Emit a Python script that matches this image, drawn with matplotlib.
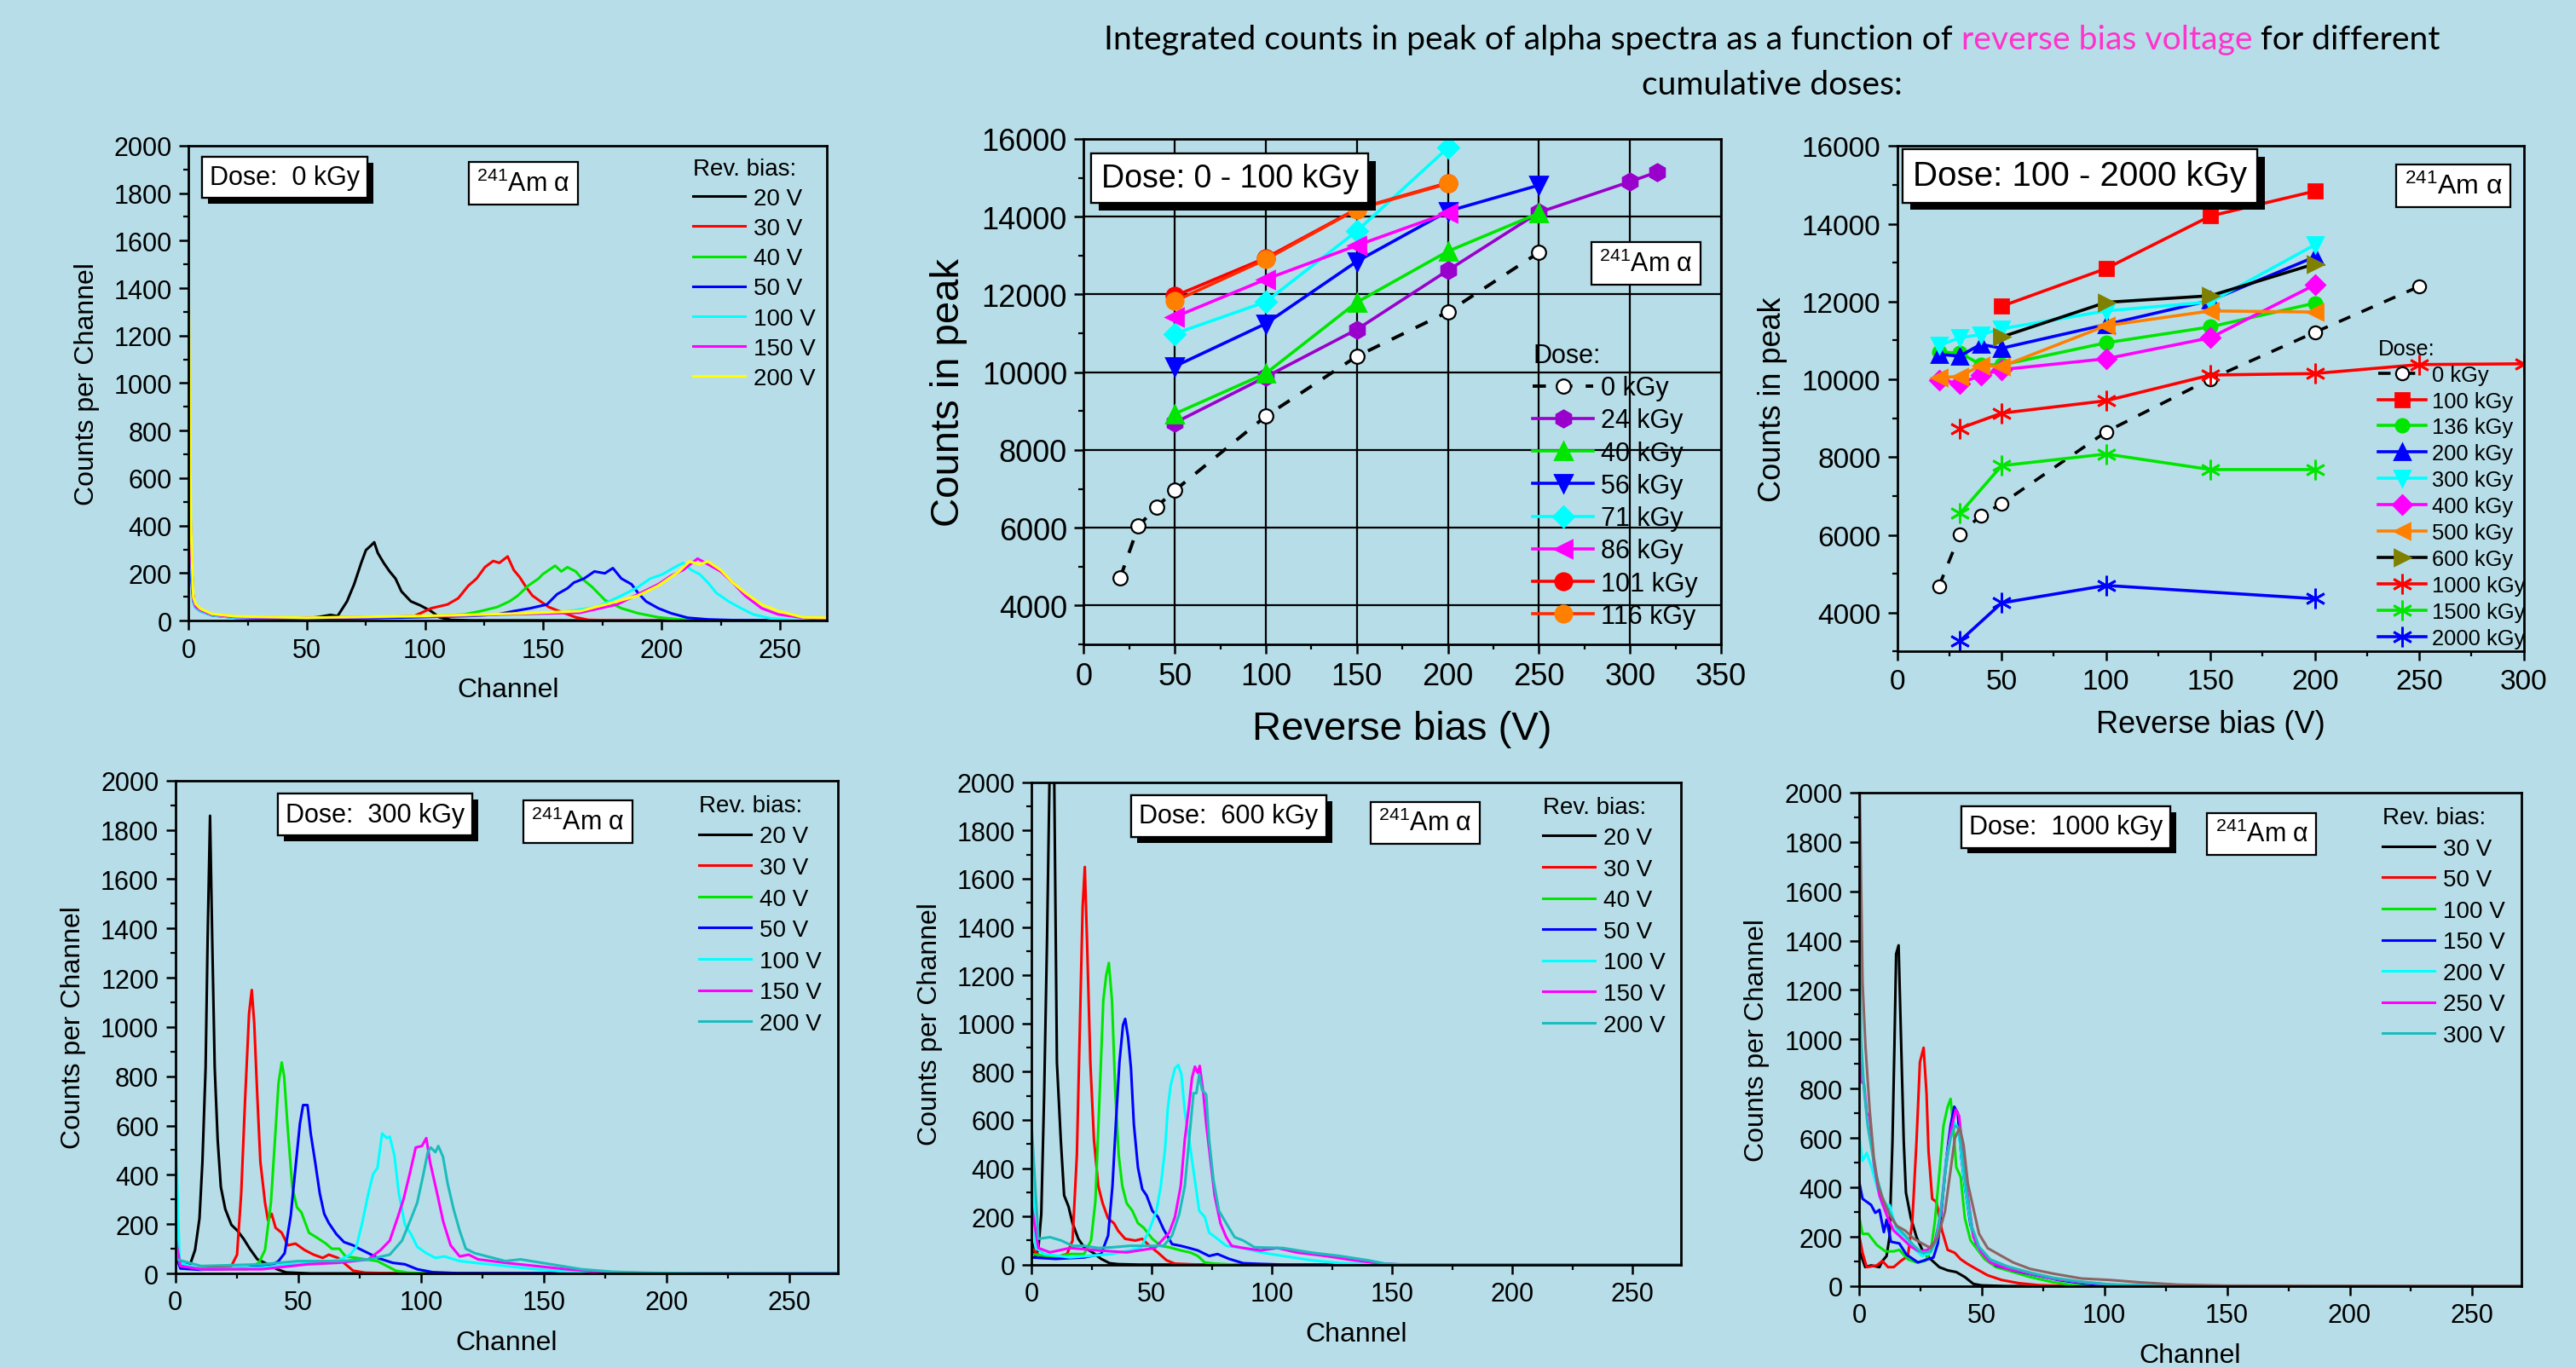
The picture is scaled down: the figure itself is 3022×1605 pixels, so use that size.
import matplotlib
matplotlib.use('Agg')
import matplotlib.pyplot as plt
import matplotlib.patheffects as pe
from matplotlib.ticker import MultipleLocator

plt.rcParams['font.family'] = ['Liberation Sans', 'DejaVu Sans']
plt.rcParams['mathtext.fontset'] = 'custom'
plt.rcParams['mathtext.rm'] = 'Liberation Sans'
plt.rcParams['mathtext.it'] = 'Liberation Sans:italic'
plt.rcParams['mathtext.default'] = 'regular'

BG = '#b7dee8'

# ---- integrated counts vs reverse bias, 0 - 100 kGy ----
bias_0 = [20, 30, 40, 50, 100, 150, 200, 250]
peak_0 = [4710, 6040, 6540, 6960, 8870, 10410, 11550, 13080]
bias_24 = [50, 100, 150, 200, 250, 300, 315]
peak_24 = [8700, 9880, 11100, 12620, 14110, 14900, 15150]
bias_5 = [50, 100, 150, 200, 250]
peak_40 = [8930, 9970, 11800, 13110, 14090]
peak_56 = [10150, 11250, 12850, 14140, 14810]
bias_4 = [50, 100, 150, 200]
peak_71 = [10990, 11810, 13630, 15770]
peak_86 = [11420, 12390, 13260, 14100]
peak_101 = [11960, 12940, 14200, 14870]
peak_116 = [11830, 12900, 14190, 14850]

# ---- integrated counts vs reverse bias, 100 - 2000 kGy ----
hb_0 = [20, 30, 40, 50, 100, 150, 200, 250]
hp_0 = [4680, 6010, 6500, 6800, 8650, 10010, 11210, 12390]
hb_100 = [50, 100, 150, 200]
hp_100 = [11880, 12850, 14200, 14840]
hb_low = [20, 30, 40, 50, 100, 150, 200]
hp_136 = [10700, 10680, 10380, 10370, 10940, 11350, 11960]
hp_200 = [10640, 10600, 10900, 10800, 11410, 12030, 13150]
hp_300 = [10870, 11070, 11150, 11300, 11760, 11990, 13460]
hp_400 = [9980, 9900, 10100, 10250, 10530, 11070, 12430]
hp_500 = [10050, 10070, 10360, 10330, 11380, 11760, 11730]
hb_600 = [50, 100, 150, 200]
hp_600 = [11090, 11980, 12150, 12970]
hb_1000 = [30, 50, 100, 150, 200, 250, 300]
hp_1000 = [8740, 9130, 9450, 10110, 10150, 10380, 10400]
hb_1500 = [30, 50, 100, 150, 200]
hp_1500 = [6550, 7780, 8080, 7680, 7680]
hb_2000 = [30, 50, 100, 200]
hp_2000 = [3270, 4250, 4700, 4360]

# ---- spectra (channel, counts) ----
sp0_20 = [(0, 800), (1, 300), (2, 90), (3, 60), (5, 45), (10, 25), (20, 15), (30, 10), (40, 8), (50, 10), (55, 15),
          (60, 24), (63, 19), (67, 81), (70, 153), (73, 243), (75, 297), (77, 315), (78.5, 330), (80, 285), (82.5, 243),
          (85, 207), (87.5, 177), (90, 123), (94, 81), (98, 64), (102.5, 40), (106, 14), (111, 3), (120, 1), (270, 0)]
sp0_30 = [(0, 1000), (1, 300), (2, 90), (3, 60), (5, 45), (10, 25), (20, 15), (40, 10), (60, 10), (80, 12), (95.6, 20),
          (102.6, 52), (109.5, 68), (114, 94), (118.3, 147), (121.8, 177), (125.3, 225), (128.8, 251), (131.4, 243),
          (134.9, 270), (137.5, 213), (140, 183), (142.7, 141), (145.4, 105), (148.8, 81), (152.3, 57), (158.5, 33),
          (163.7, 14), (169, 3), (180, 1), (270, 0)]
sp0_40 = [(0, 1050), (1, 320), (2, 90), (3, 60), (5, 45), (10, 25), (20, 15), (40, 10), (60, 10), (90, 12), (116.5, 26),
          (123.5, 40), (130.5, 57), (135.7, 81), (139.2, 105), (143.6, 147), (148, 177), (149.7, 195), (155, 231),
          (157.6, 207), (160.2, 225), (163.7, 207), (166.3, 177), (170.7, 141), (176, 87), (183, 52), (190, 31),
          (198.6, 14), (207.4, 5), (220, 1), (270, 0)]
sp0_50 = [(0, 450), (1, 200), (2, 80), (3, 55), (5, 40), (10, 22), (20, 12), (40, 8), (70, 10), (100, 15), (120, 20),
          (130.5, 26), (137.5, 40), (144.5, 52), (151.5, 68), (155.8, 111), (160.2, 136), (162.9, 160), (167.2, 177),
          (171.6, 207), (176, 199), (179.4, 221), (183, 177), (187.3, 153), (190, 117), (193.4, 81), (198.6, 52),
          (204, 31), (211, 12), (219.6, 5), (230, 2), (270, 0)]
sp0_100 = [(0, 850), (1, 250), (2, 80), (3, 55), (5, 40), (10, 22), (20, 12), (50, 12), (100, 18), (130, 25), (155, 31),
           (172.5, 57), (183, 105), (190, 141), (195.2, 177), (200.4, 195), (205.6, 225), (209.1, 243), (212.6, 213),
           (216.1, 195), (219.6, 160), (223.1, 117), (228.3, 81), (233.6, 52), (238.8, 26), (245.8, 10), (254.5, 3),
           (270, 1)]
sp0_150 = [(0, 1000), (1, 300), (2, 90), (3, 60), (5, 45), (10, 25), (20, 15), (50, 12), (100, 18), (140, 28),
           (165.5, 33), (181.2, 68), (190, 111), (198.6, 153), (204, 189), (209.1, 213), (215.2, 261), (219.6, 237),
           (225, 207), (230.1, 160), (235.3, 105), (242.3, 52), (249.3, 26), (259.8, 12), (270, 6)]
sp0_200 = [(0, 1450), (1, 400), (2, 100), (3, 70), (5, 50), (10, 28), (20, 18), (50, 12), (100, 20), (140, 30),
           (165.5, 40), (181.2, 81), (190, 105), (198.6, 147), (207.4, 207), (211.7, 249), (216.1, 237), (219.6, 249),
           (225, 213), (230.1, 160), (235.3, 117), (242.3, 68), (249.3, 40), (259.8, 14), (270, 12)]

s3_20 = [(0, 60), (3, 37), (6, 37), (8, 95), (9.8, 223), (11, 453), (12.3, 837), (13.1, 1349), (14.1, 1857), (15, 1349),
         (16, 837), (17.2, 543), (18.5, 351), (20.3, 261), (22.8, 197), (25.3, 173), (27.8, 140), (30.3, 100),
         (33.4, 57), (37.7, 37), (41.4, 17), (45.1, 4), (55, 0), (270, 0)]
s3_30 = [(0, 100), (2, 30), (10, 20), (16.6, 25), (22.8, 30), (25.1, 76), (26.8, 325), (28.4, 709), (30, 1055),
         (31.1, 1150), (32.1, 1016), (33.4, 709), (34.6, 453), (36.5, 287), (37.7, 216), (39.2, 242), (40.8, 185),
         (43.3, 165), (45.8, 114), (48.9, 121), (52.6, 95), (56.3, 76), (60, 63), (62.5, 76), (66.2, 63), (69.3, 37),
         (72.4, 11), (77.4, 3), (90, 0), (270, 0)]
s3_40 = [(0, 90), (2, 25), (10, 18), (20, 18), (29, 17), (34, 43), (36.5, 95), (38.9, 287), (40.8, 581), (42, 773),
         (43.3, 856), (44.3, 799), (45.8, 581), (47.6, 351), (49.5, 268), (51.3, 248), (54.4, 165), (57.5, 146),
         (61.3, 121), (63.7, 100), (66.8, 100), (69.3, 69), (73.7, 63), (77.4, 57), (82.3, 50), (86.1, 30),
         (89.8, 11), (94.8, 3), (105, 0), (270, 0)]
s3_50 = [(0, 80), (2, 20), (10, 15), (25, 20), (38.9, 30), (42, 50), (44.5, 82), (47, 236), (48.9, 428), (50.7, 607),
         (52, 683), (53.8, 683), (55.1, 568), (56.9, 453), (58.8, 325), (60.6, 242), (62.5, 204), (65.6, 159),
         (68.7, 127), (72.4, 114), (74.9, 100), (78.6, 82), (82.3, 63), (88.5, 43), (93.5, 37), (98.5, 17),
         (104.7, 5), (115, 1), (270, 0)]
s3_100 = [(0, 610), (1.7, 43), (10.4, 17), (35.2, 24), (47.6, 37), (60, 43), (67.5, 57), (71.2, 76), (73.7, 108),
          (76.2, 210), (78.6, 325), (80.5, 402), (82.3, 428), (84.2, 568), (86.1, 549), (87.3, 555), (89.2, 479),
          (91, 325), (93.5, 197), (96, 159), (98.5, 108), (102.2, 82), (105.9, 63), (109.6, 69), (115.8, 50),
          (122, 43), (134.4, 30), (146.8, 17), (159.2, 7), (171.6, 3), (185, 1), (270, 0)]
s3_150 = [(0, 150), (2, 30), (10.4, 17), (35.2, 17), (53.8, 37), (66.2, 43), (78.6, 57), (83.6, 95), (87.3, 133),
          (90.4, 223), (92.9, 300), (95.4, 402), (97.9, 511), (100.4, 517), (102.2, 549), (103.7, 453), (106.6, 325),
          (109.1, 210), (112.1, 114), (115.8, 69), (119.5, 76), (123.3, 57), (134.4, 43), (146.8, 30), (159.2, 17),
          (171.6, 7), (184, 3), (200, 1), (270, 0)]
s3_200 = [(0, 300), (0.6, 57), (10.4, 30), (35.2, 37), (50, 50), (66.2, 50), (78.6, 57), (87.3, 76), (92.3, 133),
          (96, 223), (98.5, 287), (101, 402), (102.8, 492), (104, 511), (105.9, 492), (107.1, 517), (109, 473),
          (110.9, 364), (113.3, 261), (115.8, 173), (118.3, 100), (122, 82), (127, 69), (134.4, 50), (140.6, 57),
          (153, 37), (165.4, 17), (177.8, 7), (190.2, 3), (210, 1), (270, 0)]

s6_20 = [(0, 100), (1.8, 30), (2.9, 69), (4.1, 210), (5.3, 711), (6.5, 1353), (7.5, 2000), (8.5, 2600), (9.5, 2000),
         (10.6, 839), (12.2, 519), (13.6, 287), (15.4, 242), (17.1, 172), (19.5, 107), (21.9, 72), (25.4, 51),
         (29, 24), (32.5, 6), (36.1, 2), (45, 0), (270, 0)]
s6_30 = [(0, 69), (4.1, 30), (10, 30), (14.8, 44), (17.1, 100), (18.9, 454), (20.1, 968), (21.3, 1482), (22.2, 1649),
         (23.1, 1353), (24.5, 839), (26, 519), (27.8, 326), (29.6, 255), (31.9, 191), (34.3, 172), (36.1, 140),
         (39, 107), (43.2, 100), (46.1, 107), (49.1, 78), (52.6, 50), (56.2, 18), (59.7, 4), (70, 0), (270, 0)]
s6_40 = [(0, 44), (10, 30), (16, 44), (21.9, 44), (24.8, 100), (26.6, 262), (28.4, 711), (29.9, 1096), (31.1, 1199),
         (32.2, 1251), (33.5, 1096), (34.9, 711), (36.3, 454), (37.8, 326), (39.6, 255), (42, 223), (44.3, 172),
         (46.7, 153), (50.3, 107), (53.8, 78), (57.3, 72), (62.1, 59), (66.2, 50), (69.2, 36), (72.1, 9), (76.2, 4),
         (85, 0), (270, 0)]
s6_50 = [(0, 30), (10, 24), (21.9, 30), (29, 44), (31.9, 121), (33.7, 326), (35.1, 583), (36.6, 839), (38.1, 994),
         (39, 1019), (40.2, 942), (41.4, 814), (42.6, 583), (44.3, 403), (46.1, 313), (47.9, 287), (50.3, 223),
         (52.6, 198), (55, 146), (58.5, 85), (62.1, 78), (65.6, 69), (69.2, 59), (73.9, 36), (77.4, 44), (82.2, 24),
         (88.1, 6), (95.2, 3), (105, 0), (270, 0)]
s6_100 = [(0, 450), (1.8, 69), (5.3, 44), (16, 30), (33.7, 44), (45.5, 69), (49.1, 146), (52, 223), (53.8, 326),
          (55.6, 480), (56.7, 647), (57.9, 743), (59.7, 814), (61.1, 828), (62.4, 788), (63.8, 634), (65.6, 519),
          (67.4, 390), (69.8, 223), (72.1, 198), (73.9, 133), (77.4, 107), (81, 78), (88.1, 69), (95.2, 51),
          (104.6, 36), (116.5, 18), (128.3, 6), (140.1, 2), (150, 0), (270, 0)]
s6_150 = [(0, 250), (2.9, 69), (7.7, 51), (16, 69), (27.8, 59), (39.6, 51), (51.4, 69), (57.3, 133), (59.7, 198),
          (62.1, 326), (63.8, 519), (65.4, 647), (66.8, 775), (68, 821), (69.2, 795), (70, 824), (71.5, 711),
          (72.7, 583), (74.5, 429), (76.2, 287), (78.6, 172), (81, 114), (83.3, 78), (88.1, 69), (95.2, 59),
          (102.3, 69), (110.6, 50), (122.4, 36), (134.2, 18), (146, 4), (155, 0), (270, 0)]
s6_200 = [(0, 590), (2.9, 107), (7.7, 114), (12.4, 100), (17.1, 78), (21.9, 78), (27.8, 69), (33.7, 72), (40.8, 78),
          (47.9, 78), (55, 78), (58.5, 121), (61.5, 210), (63.8, 326), (65.6, 519), (67.4, 711), (68.6, 711),
          (69.8, 788), (71, 724), (72.7, 705), (73.9, 519), (75.7, 352), (78, 223), (81, 172), (84.5, 114),
          (88.1, 100), (92.8, 72), (104.6, 69), (116.5, 50), (128.3, 36), (140.1, 18), (147.2, 4), (155, 0), (270, 0)]

s10_30 = [(0, 147), (2.5, 77), (4.9, 84), (8.3, 77), (9.5, 102), (11.2, 122), (12.4, 199), (13.6, 586), (14.4, 972),
          (15.1, 1346), (16.1, 1381), (17, 1037), (18.2, 586), (19.1, 379), (21.1, 276), (23.4, 199), (26.3, 135),
          (29.2, 109), (32.7, 77), (36.1, 64), (39.6, 57), (43.1, 37), (46.6, 9), (50, 3), (60, 0), (270, 0)]
s10_50 = [(0, 205), (1.4, 135), (3.1, 77), (7.2, 84), (9.5, 102), (11.8, 77), (14.1, 77), (17, 102), (19.9, 122),
          (21.7, 263), (23.4, 586), (24.8, 908), (26.3, 966), (27.5, 779), (28.3, 547), (29.8, 354), (31.5, 341),
          (33.8, 225), (36.1, 147), (39, 135), (41.4, 109), (44.2, 90), (47.7, 70), (52.4, 44), (58.1, 25),
          (65.1, 12), (73.2, 4), (85, 0), (270, 0)]
s10_100 = [(0, 283), (1.4, 212), (3.7, 212), (7.2, 167), (10.7, 141), (14.1, 141), (16.4, 147), (19.9, 109),
           (23.4, 96), (26.9, 102), (29.2, 141), (30.9, 263), (32.7, 456), (34.4, 650), (36.1, 727), (37.3, 759),
           (38.5, 637), (39.6, 482), (41.4, 443), (43.1, 276), (45.4, 186), (48.3, 147), (51.2, 109), (55.8, 77),
           (62.8, 57), (69.7, 37), (79, 16), (88.3, 3), (100, 0), (270, 0)]
s10_150 = [(0, 424), (1.4, 354), (4.9, 329), (6.6, 297), (8.3, 309), (10.1, 219), (11.2, 269), (13, 180), (16.4, 173),
           (19.3, 128), (24, 96), (28, 109), (30.3, 116), (32.1, 173), (33.8, 329), (35.6, 521), (37.3, 650),
           (38.8, 727), (40.2, 702), (41.7, 521), (43.3, 392), (45.4, 250), (47.7, 173), (51.2, 128), (55.8, 84),
           (62.8, 64), (72, 44), (81.3, 25), (90.6, 12), (102.2, 3), (115, 0), (270, 0)]
s10_200 = [(0, 611), (1.4, 508), (3.1, 540), (4.9, 488), (7.2, 405), (9.5, 329), (12.4, 329), (15.4, 225), (18.8, 199),
           (22.2, 154), (25.7, 122), (29.2, 135), (31.5, 186), (33.8, 354), (35.6, 521), (37.3, 611), (39, 663),
           (40.5, 637), (41.9, 508), (43.7, 367), (46, 225), (48.9, 147), (53.5, 102), (60.5, 77), (69.7, 51),
           (79, 31), (90.6, 16), (102.2, 6), (120, 1), (270, 0)]
s10_250 = [(0, 1024), (0.8, 830), (2, 818), (3.1, 701), (4.3, 689), (6, 495), (8.3, 367), (11.2, 289), (14.1, 225),
           (17.6, 193), (21.1, 160), (24.6, 141), (28, 147), (30.9, 180), (33.2, 289), (35, 456), (37.3, 624),
           (39.4, 715), (40.8, 689), (42.6, 508), (44.3, 367), (46.6, 199), (49.5, 141), (53.5, 96), (60.5, 70),
           (69.7, 51), (79, 31), (90.6, 16), (102.2, 6), (120, 1), (270, 0)]
s10_300 = [(0, 1640), (0.8, 1000), (2, 800), (3.5, 650), (5, 560), (7, 450), (9.5, 360), (12.4, 300), (15.4, 240),
           (18.8, 205), (22.2, 165), (25.7, 135), (29.2, 140), (31.5, 190), (33.8, 340), (35.6, 500), (37.3, 600),
           (39, 650), (40.5, 640), (41.9, 540), (43.7, 390), (46, 240), (48.9, 160), (53.5, 108), (60.5, 80),
           (69.7, 55), (79, 34), (90.6, 18), (102.2, 7), (120, 2), (270, 0)]
s10_extra = [(0, 2200), (1.4, 1230), (2.6, 972), (4.3, 715), (6, 521), (7.8, 405), (10.1, 341), (12.4, 289),
             (15.4, 244), (18.8, 225), (22.2, 193), (25.7, 173), (29.2, 154), (32.1, 199), (35, 302), (37.3, 470),
             (39, 598), (41, 643), (42.6, 572), (44.3, 418), (46, 341), (48.9, 212), (52.4, 154), (58.1, 122),
             (62.8, 96), (69.7, 70), (79, 51), (90.6, 31), (102.2, 25), (115, 15), (130, 6), (150, 2), (270, 1)]

bias_lab_a = ['20 V', '30 V', '40 V', '50 V', '100 V', '150 V', '200 V']
bias_lab_b = ['30 V', '50 V', '100 V', '150 V', '200 V', '250 V', '300 V']
col_a = ['black', '#ff0000', '#00e600', '#0000ff', '#00ffff', '#ff00ff', '#ffff00']
col_c = ['black', '#ff0000', '#00e600', '#0000ff', '#00ffff', '#ff00ff', '#1cbcbc']

fig = plt.figure(figsize=(15.11, 8.03), dpi=200, facecolor=BG)


def style_axes(ax, tick_size, xmaj, xmin, ymaj, ymin):
    ax.set_facecolor(BG)
    for s in ax.spines.values():
        s.set_linewidth(1.0)
    ax.xaxis.set_major_locator(MultipleLocator(xmaj))
    ax.xaxis.set_minor_locator(MultipleLocator(xmin))
    ax.yaxis.set_major_locator(MultipleLocator(ymaj))
    ax.yaxis.set_minor_locator(MultipleLocator(ymin))
    ax.tick_params(which='major', direction='out', length=4, width=0.9, labelsize=tick_size, pad=3)
    ax.tick_params(which='minor', direction='out', length=2.2, width=0.8)


def dose_box(ax, x, y, s, size, sh):
    t = ax.text(x, y, s, transform=ax.transAxes, fontsize=size, ha='left', va='center', zorder=10,
                bbox=dict(boxstyle='square,pad=0.3', fc='white', ec='black', lw=0.8))
    t.get_bbox_patch().set_path_effects([
        pe.withSimplePatchShadow(offset=(sh, -sh), shadow_rgbFace='black', alpha=1.0), pe.Normal()])


def am_box(ax, x, y, size):
    ax.text(x, y, r'$^{241}$Am α', transform=ax.transAxes, fontsize=size, ha='center', va='center', zorder=10,
            bbox=dict(boxstyle='square,pad=0.3', fc='white', ec='black', lw=0.8))


def spectrum(rect, curves, colors, labels, dose, leg_xy, lsp, extra=None):
    ax = fig.add_axes(rect)
    style_axes(ax, 11, 50, 25, 200, 100)
    for pts, c, lab in zip(curves, colors, labels):
        ax.plot([p[0] for p in pts], [p[1] for p in pts], color=c, lw=1.1, label=lab)
    if extra is not None:
        ax.plot([p[0] for p in extra], [p[1] for p in extra], color='#8c6464', lw=1.1)
    ax.set_xlim(0, 270)
    ax.set_ylim(0, 2000)
    ax.set_xlabel('Channel', fontsize=11.5, labelpad=6)
    ax.set_ylabel('Counts per Channel', fontsize=11.5, labelpad=6)
    ax.legend(loc='upper left', bbox_to_anchor=leg_xy, frameon=False, fontsize=10, title='Rev. bias:',
              title_fontsize=10, alignment='left', handlelength=2.2, handletextpad=0.35, labelspacing=lsp,
              borderpad=0, borderaxespad=0)
    dose_box(ax, dose[0], dose[1], dose[2], 11, 2.5)
    return ax


# top-left spectrum (0 kGy)
ax1 = spectrum([0.0732, 0.546, 0.2479, 0.347], [sp0_20, sp0_30, sp0_40, sp0_50, sp0_100, sp0_150, sp0_200],
               col_a, bias_lab_a, (0.033, 0.933, 'Dose:  0 kGy'), (0.79, 0.975), 0.33)
am_box(ax1, 0.524, 0.921, 11)

# bottom spectra
ax4 = spectrum([0.0681, 0.0691, 0.2573, 0.3601], [s3_20, s3_30, s3_40, s3_50, s3_100, s3_150, s3_200],
               col_c, bias_lab_a, (0.166, 0.931, 'Dose:  300 kGy'), (0.79, 0.972), 0.38)
am_box(ax4, 0.607, 0.9165, 11)
ax5 = spectrum([0.4004, 0.0755, 0.2520, 0.3524], [s6_20, s6_30, s6_40, s6_50, s6_100, s6_150, s6_200],
               col_c, bias_lab_a, (0.166, 0.93, 'Dose:  600 kGy'), (0.788, 0.972), 0.38)
am_box(ax5, 0.607, 0.916, 11)
ax6 = spectrum([0.7217, 0.0598, 0.2571, 0.3606], [s10_30, s10_50, s10_100, s10_150, s10_200, s10_250, s10_300],
               col_c, bias_lab_b, (0.166, 0.93, 'Dose:  1000 kGy'), (0.79, 0.972), 0.38, extra=s10_extra)
am_box(ax6, 0.608, 0.916, 11)

# top-middle: 0 - 100 kGy
ax2 = fig.add_axes([0.4207, 0.5286, 0.2474, 0.3693])
style_axes(ax2, 13, 50, 25, 2000, 1000)
ax2.grid(True, which='major', color='black', lw=0.8)
ax2.set_axisbelow(True)
ms = 6
ax2.plot(bias_0, peak_0, ls=(0, (4, 4)), color='black', lw=1.4, marker='o', ms=ms, mfc='white', mec='black',
         mew=0.8, label='0 kGy')
ax2.plot(bias_24, peak_24, color='#9900cc', lw=1.3, marker='h', ms=ms + 1, label='24 kGy')
ax2.plot(bias_5, peak_40, color='#00e600', lw=1.3, marker='^', ms=ms + 1, label='40 kGy')
ax2.plot(bias_5, peak_56, color='#0000ff', lw=1.3, marker='v', ms=ms + 1, label='56 kGy')
ax2.plot(bias_4, peak_71, color='#00ffff', lw=1.3, marker='D', ms=ms, label='71 kGy')
ax2.plot(bias_4, peak_86, color='#ff00ff', lw=1.3, marker='<', ms=ms + 1, label='86 kGy')
ax2.plot(bias_4, peak_101, color='#ff0000', lw=1.3, marker='o', ms=ms + 1, label='101 kGy')
ax2.plot(bias_4, peak_116, color='#ff2a00', lw=1.3, marker='o', ms=ms + 1, mfc='#ff8000', mec='#ff8000',
         label='116 kGy')
ax2.set_xlim(0, 350)
ax2.set_ylim(3000, 16000)
ax2.set_xlabel('Reverse bias (V)', fontsize=17, labelpad=8)
ax2.set_ylabel('Counts in peak', fontsize=17, labelpad=6)
ax2.legend(loc='upper left', bbox_to_anchor=(0.705, 0.597), frameon=False, fontsize=11, title='Dose:',
           title_fontsize=11, alignment='left', handlelength=2.3, handletextpad=0.3, labelspacing=0.27,
           borderpad=0, borderaxespad=0)
dose_box(ax2, 0.027, 0.922, 'Dose: 0 - 100 kGy', 13.5, 3.2)
am_box(ax2, 0.882, 0.754, 11)

# top-right: 100 - 2000 kGy
ax3 = fig.add_axes([0.7365, 0.5234, 0.2432, 0.3693])
style_axes(ax3, 12, 50, 25, 2000, 1000)
ms = 5.5
star = (6, 2, 0)
ax3.plot(hb_0, hp_0, ls=(0, (4, 4)), color='black', lw=1.3, marker='o', ms=ms, mfc='white', mec='black', mew=0.8,
         label='0 kGy')
ax3.plot(hb_100, hp_100, color='#ff0000', lw=1.3, marker='s', ms=ms, label='100 kGy')
ax3.plot(hb_low, hp_136, color='#00e600', lw=1.3, marker='o', ms=ms, label='136 kGy')
ax3.plot(hb_low, hp_200, color='#0000ff', lw=1.3, marker='^', ms=ms + 1, label='200 kGy')
ax3.plot(hb_low, hp_300, color='#00ffff', lw=1.3, marker='v', ms=ms + 1, label='300 kGy')
ax3.plot(hb_low, hp_400, color='#ff00ff', lw=1.3, marker='D', ms=ms, label='400 kGy')
ax3.plot(hb_low, hp_500, color='#ff8000', lw=1.3, marker='<', ms=ms + 1, label='500 kGy')
ax3.plot(hb_600, hp_600, color='black', lw=1.3, marker='>', ms=ms + 1, mfc='#808000', mec='#808000',
         label='600 kGy')
ax3.plot(hb_1000, hp_1000, color='#ff0000', lw=1.3, marker=star, ms=ms + 3, mew=1.0, label='1000 kGy')
ax3.plot(hb_1500, hp_1500, color='#00e600', lw=1.3, marker=star, ms=ms + 3, mew=1.0, label='1500 kGy')
ax3.plot(hb_2000, hp_2000, color='#0000ff', lw=1.3, marker=star, ms=ms + 3, mew=1.0, label='2000 kGy')
ax3.set_xlim(0, 300)
ax3.set_ylim(3000, 16000)
ax3.set_xlabel('Reverse bias (V)', fontsize=13, labelpad=6)
ax3.set_ylabel('Counts in peak', fontsize=13, labelpad=6)
ax3.legend(loc='upper left', bbox_to_anchor=(0.768, 0.62), frameon=False, fontsize=9.2, title='Dose:',
           title_fontsize=9.2, alignment='left', handlelength=2.2, handletextpad=0.27, labelspacing=0.27,
           borderpad=0, borderaxespad=0)
dose_box(ax3, 0.025, 0.9407, 'Dose: 100 - 2000 kGy', 14.5, 3.2)
am_box(ax3, 0.888, 0.921, 11.5)

# title with coloured phrase
tfont = dict(family=['Lato', 'DejaVu Sans'], fontsize=14.1)
y1 = 0.971
t1 = fig.text(0.43, y1, 'Integrated counts in peak of alpha spectra as a function of', va='center', ha='left',
              **tfont)
t2 = fig.text(0, 0, ' reverse bias voltage', color='#ff33cc', va='center', ha='left', **tfont)
t3 = fig.text(0, 0, ' for different', va='center', ha='left', **tfont)
fig.text(0.688, 0.938, 'cumulative doses:', va='center', ha='center', **tfont)

fig.canvas.draw()
r = fig.canvas.get_renderer()
w1 = t1.get_window_extent(r).width
w2 = t2.get_window_extent(r).width
w3 = t3.get_window_extent(r).width
W = fig.bbox.width
x0 = 0.688 - (w1 + w2 + w3) / 2 / W
t1.set_x(x0)
t2.set_position((x0 + w1 / W, y1))
t3.set_position((x0 + (w1 + w2) / W, y1))

fig.savefig('out.png', dpi=200, facecolor=BG)
